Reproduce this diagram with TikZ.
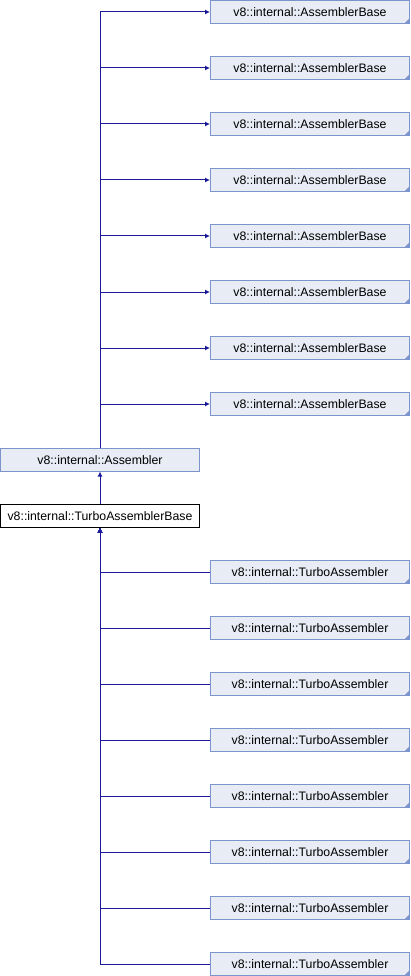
\documentclass[tikz,border=0pt]{standalone}
\usepackage{fontspec}
\setmainfont{Liberation Sans}
\usetikzlibrary{arrows.meta}
\definecolor{boxfill}{HTML}{E8ECF5}
\definecolor{boxline}{HTML}{7D93CC}
\definecolor{edgecol}{HTML}{1B1B9A}
\tikzset{
  cls/.style={draw=boxline, fill=boxfill, line width=1pt, minimum width=199pt, minimum height=22.5pt,
    inner sep=0pt, font=\fontsize{12.3}{14}\selectfont,
    path picture={\fill[boxline] (path picture bounding box.south east) -- ++(-5pt,0pt) -- ++(5pt,5pt) -- cycle;}},
  plaincls/.style={draw=black, fill=white, line width=1pt, minimum width=199pt, minimum height=22.5pt,
    inner sep=0pt, font=\fontsize{12.3}{14}\selectfont},
  clsbase/.style={draw=boxline, fill=boxfill, line width=1pt, minimum width=199pt, minimum height=22.5pt,
    inner sep=0pt, font=\fontsize{12.3}{14}\selectfont},
  edge/.style={draw=edgecol, line width=1pt},
  inh/.style={edge, -{Latex[length=5pt,width=5pt]}}
}
\begin{document}
\begin{tikzpicture}[x=1pt,y=-1pt]
\useasboundingbox (0,0) rectangle (410,976);
\node[clsbase] (asm) at (100,459.75) {v8::internal::Assembler};
\node[plaincls] (tab) at (100,515.75) {v8::internal::TurboAssemblerBase};
\foreach \k in {0,...,7}{
  \node[cls] (ab\k) at (310,{12+56*\k}) {v8::internal::AssemblerBase};
  \node[cls] (ta\k) at (310,{572+56*\k}) {v8::internal::TurboAssembler};
}
\foreach \k in {0,...,7}{
  \draw[inh] (asm.north) |- (ab\k.west);
  \draw[inh] (ta\k.west) -| (tab.south);
}
\draw[inh] (tab.north) -- (asm.south);
\end{tikzpicture}
\end{document}
